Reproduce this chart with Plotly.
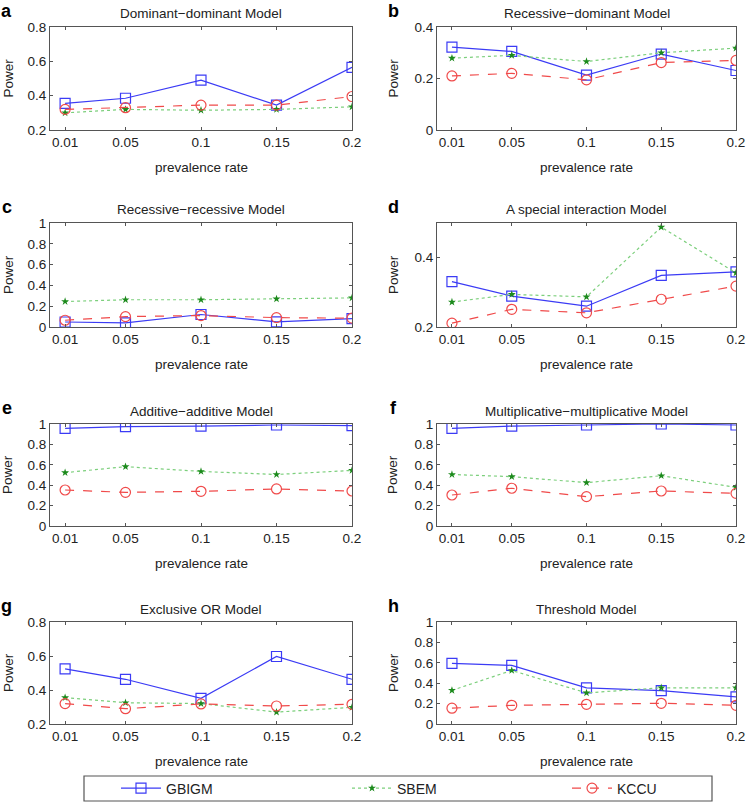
import plotly.graph_objects as go

prevalence = [0.01, 0.05, 0.1, 0.15, 0.2]
tick_labels = ["0.01", "0.05", "0.1", "0.15", "0.2"]

titles = [
    "Dominant\u2212dominant Model",
    "Recessive\u2212dominant Model",
    "Recessive\u2212recessive Model",
    "A special interaction Model",
    "Additive\u2212additive Model",
    "Multiplicative\u2212multiplicative Model",
    "Exclusive OR Model",
    "Threshold Model",
]
panel_letters = ["a", "b", "c", "d", "e", "f", "g", "h"]

gbigm_a = [0.355, 0.385, 0.49, 0.345, 0.565]
sbem_a = [0.30, 0.32, 0.315, 0.32, 0.335]
kccu_a = [0.32, 0.33, 0.345, 0.345, 0.395]

gbigm_b = [0.322, 0.305, 0.213, 0.295, 0.231]
sbem_b = [0.279, 0.29, 0.266, 0.30, 0.318]
kccu_b = [0.21, 0.22, 0.195, 0.262, 0.27]

gbigm_c = [0.048, 0.04, 0.12, 0.05, 0.08]
sbem_c = [0.245, 0.262, 0.262, 0.27, 0.28]
kccu_c = [0.065, 0.10, 0.11, 0.09, 0.085]

gbigm_d = [0.331, 0.289, 0.26, 0.349, 0.359]
sbem_d = [0.272, 0.294, 0.287, 0.488, 0.356]
kccu_d = [0.211, 0.251, 0.241, 0.28, 0.318]

gbigm_e = [0.958, 0.974, 0.98, 0.99, 0.984]
sbem_e = [0.523, 0.582, 0.535, 0.505, 0.545]
kccu_e = [0.353, 0.33, 0.34, 0.363, 0.343]

gbigm_f = [0.958, 0.98, 0.99, 1.0, 0.99]
sbem_f = [0.505, 0.484, 0.425, 0.493, 0.379]
kccu_f = [0.304, 0.37, 0.288, 0.343, 0.32]

gbigm_g = [0.524, 0.463, 0.351, 0.597, 0.463]
sbem_g = [0.355, 0.325, 0.32, 0.27, 0.298]
kccu_g = [0.32, 0.29, 0.318, 0.306, 0.316]

gbigm_h = [0.595, 0.575, 0.355, 0.328, 0.265]
sbem_h = [0.33, 0.525, 0.305, 0.355, 0.355]
kccu_h = [0.155, 0.183, 0.193, 0.203, 0.183]

gbigm = [gbigm_a, gbigm_b, gbigm_c, gbigm_d, gbigm_e, gbigm_f, gbigm_g, gbigm_h]
sbem = [sbem_a, sbem_b, sbem_c, sbem_d, sbem_e, sbem_f, sbem_g, sbem_h]
kccu = [kccu_a, kccu_b, kccu_c, kccu_d, kccu_e, kccu_f, kccu_g, kccu_h]

y_ranges = [[0.2, 0.8], [0, 0.4], [0, 1], [0.2, 0.5], [0, 1], [0, 1], [0.2, 0.8], [0, 1]]
y_ticks = [
    [0.2, 0.4, 0.6, 0.8],
    [0, 0.2, 0.4],
    [0, 0.2, 0.4, 0.6, 0.8, 1],
    [0.2, 0.4],
    [0, 0.2, 0.4, 0.6, 0.8, 1],
    [0, 0.2, 0.4, 0.6, 0.8, 1],
    [0.2, 0.4, 0.6, 0.8],
    [0, 0.2, 0.4, 0.6, 0.8, 1],
]

W, H = 748, 804
COLS = [(50, 352), (437, 736)]
ROWS = [(27, 130), (223, 327), (424, 526), (622, 724)]
LEGEND_BOX = (84, 776, 712, 801)
LEGEND_X = [116, 347, 567]  # left edge of each legend entry

BLUE = "#3b3bf5"
GREEN_LINE = "#7ccf7c"
GREEN_MARK = "#1c8a1c"
RED = "#f04a4a"
BOX = "#555555"
FONT = "Liberation Sans"

fig = go.Figure()
annotations = []

for i in range(8):
    r, c = divmod(i, 2)
    x0, x1 = COLS[c]
    y0, y1 = ROWS[r]
    n = "" if i == 0 else str(i + 1)
    xa, ya = "x" + n, "y" + n
    show = i == 0

    fig.add_trace(go.Scatter(
        x=prevalence, y=gbigm[i], name="GBIGM", mode="lines+markers",
        line=dict(color=BLUE, width=1.2),
        marker=dict(symbol="square-open", size=10, color=BLUE, line=dict(width=1.2)),
        xaxis=xa, yaxis=ya, showlegend=show, legend="legend",
    ))
    fig.add_trace(go.Scatter(
        x=prevalence, y=sbem[i], name="SBEM", mode="lines+markers",
        line=dict(color=GREEN_LINE, width=1.2, dash="dot"),
        marker=dict(symbol="star", size=6, color=GREEN_MARK),
        xaxis=xa, yaxis=ya, showlegend=show, legend="legend2",
    ))
    fig.add_trace(go.Scatter(
        x=prevalence, y=kccu[i], name="KCCU", mode="lines+markers",
        line=dict(color=RED, width=1.2, dash="dash"),
        marker=dict(symbol="circle-open", size=10, color=RED, line=dict(width=1.2)),
        xaxis=xa, yaxis=ya, showlegend=show, legend="legend3",
    ))

    axis_common = dict(
        showgrid=False, zeroline=False, showline=True, linecolor=BOX, linewidth=1,
        mirror="ticks", ticks="inside", ticklen=3, tickcolor=BOX,
        tickfont=dict(family=FONT, size=13.5, color="#222"),
    )
    fig.layout["xaxis" + n] = dict(
        axis_common, domain=[x0 / W, x1 / W], anchor=ya, range=[0, 0.2],
        tickvals=prevalence, ticktext=tick_labels,
    )
    fig.layout["yaxis" + n] = dict(
        axis_common, domain=[1 - y1 / H, 1 - y0 / H], anchor=xa,
        range=y_ranges[i], tickvals=y_ticks[i],
        ticktext=["%g" % v for v in y_ticks[i]],
    )

    cx = (x0 + x1) / 2
    annotations.append(dict(
        text=titles[i], x=cx / W, y=1 - (y0 - 13) / H, xref="paper", yref="paper",
        showarrow=False, font=dict(family=FONT, size=13.5, color="#222"),
        xanchor="center", yanchor="middle",
    ))
    annotations.append(dict(
        text="prevalence rate", x=cx / W, y=1 - (y1 + 37) / H, xref="paper", yref="paper",
        showarrow=False, font=dict(family=FONT, size=13.5, color="#222"),
        xanchor="center", yanchor="middle",
    ))
    annotations.append(dict(
        text="Power", x=(8 if c == 0 else 393) / W, y=1 - ((y0 + y1) / 2) / H,
        xref="paper", yref="paper", textangle=-90,
        showarrow=False, font=dict(family=FONT, size=13.5, color="#222"),
        xanchor="center", yanchor="middle",
    ))
    annotations.append(dict(
        text="<b>%s</b>" % panel_letters[i], x=(7 if c == 0 else 393) / W,
        y=1 - (y0 - 16) / H, xref="paper", yref="paper",
        showarrow=False, font=dict(family=FONT, size=18, color="black"),
        xanchor="center", yanchor="middle",
    ))

# legend frame
lx0, ly0, lx1, ly1 = LEGEND_BOX
fig.add_shape(
    type="rect", xref="paper", yref="paper",
    x0=lx0 / W, x1=lx1 / W, y0=1 - ly1 / H, y1=1 - ly0 / H,
    line=dict(color=BOX, width=1.2), fillcolor="white", layer="below",
)

legend_style = dict(
    orientation="h", xanchor="left", yanchor="middle",
    xref="container", yref="container",
    y=1 - ((ly0 + ly1) / 2) / H, bgcolor="rgba(0,0,0,0)", borderwidth=0,
    font=dict(family=FONT, size=14, color="#222"), itemwidth=40,
)

fig.update_layout(
    width=W, height=H,
    margin=dict(l=0, r=0, t=0, b=0, autoexpand=False),
    paper_bgcolor="white", plot_bgcolor="white",
    annotations=annotations,
    legend=dict(legend_style, x=LEGEND_X[0] / W),
    legend2=dict(legend_style, x=LEGEND_X[1] / W),
    legend3=dict(legend_style, x=LEGEND_X[2] / W),
)

# drop the browser's default body margin so the figure sits at the page origin
fig.write_html(
    "out.html",
    config={"displayModeBar": False},
    post_script="document.body.style.margin = '0';",
)
